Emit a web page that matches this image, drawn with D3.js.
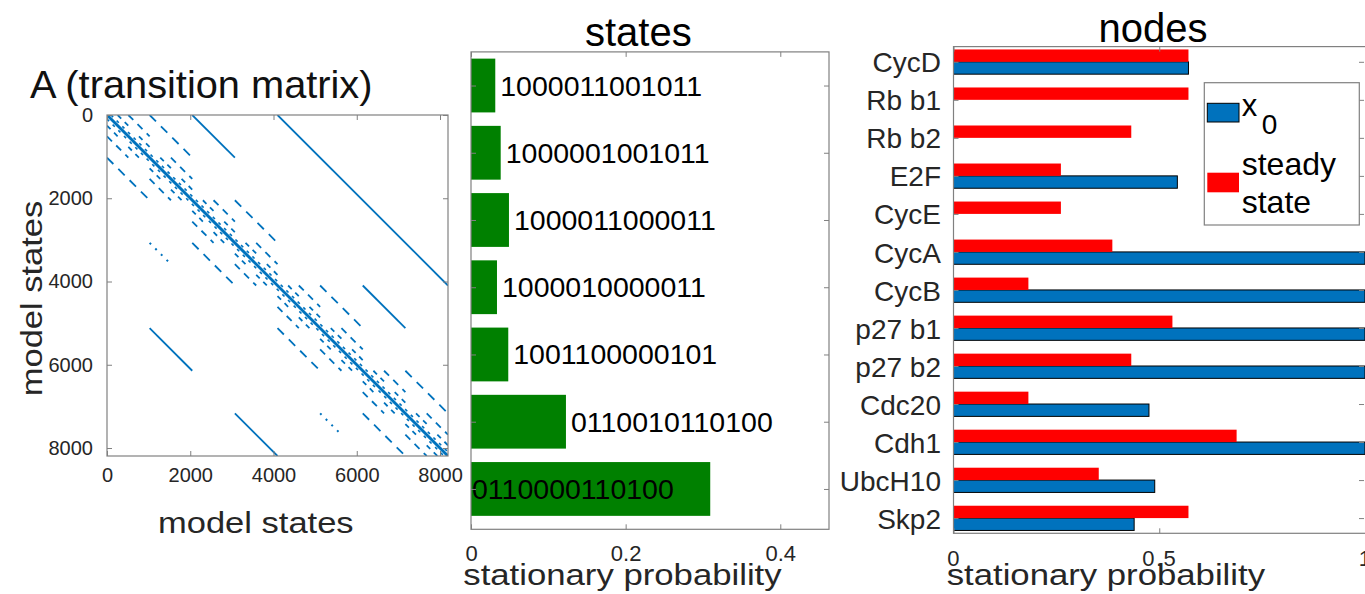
<!DOCTYPE html>
<html>
<head>
<meta charset="utf-8">
<script src="https://cdn.jsdelivr.net/npm/d3@7"></script>
<style>
  body { margin: 0; background: #fff; }
  svg { display: block; font-family: "Liberation Sans", Arial, Helvetica, sans-serif; }
</style>
</head>
<body>
<div id="chart"></div>
<script>
// ---- data ----
const matrixSize = 8192;
const matrixTicks = [0, 2000, 4000, 6000, 8000];

// sparsity pattern of the transition matrix, [col0, row0, col1, row1] in states
const diagonal = [[0, 0, 8192, 8192]];
const nearDiagonal = [[96, 0, 8192, 8096], [0, 96, 8096, 8192]];
const solidLines = [
  [4096, 0, 8192, 4096], [2048, 0, 3072, 1024], [6144, 4096, 7168, 5120],
  [1024, 5120, 2048, 6144], [3072, 7168, 4096, 8192]
];
const dottedLines = [[1024, 3072, 1536, 3584], [5120, 7168, 5632, 7680]];
const blockStarts = [0, 2048, 4096, 6144];
// dashed runs inside each 2048 block, [col0, row0, col1, row1, level]
const blockDashes = [
  [1024, 0, 2048, 1024, 1], [0, 1024, 1024, 2048, 1],
  [512, 0, 1024, 512, 2], [0, 512, 512, 1024, 2], [1536, 1024, 2048, 1536, 2], [1024, 1536, 1536, 2048, 2],
  [256, 0, 512, 256, 3], [0, 256, 256, 512, 3], [768, 512, 1024, 768, 3], [512, 768, 768, 1024, 3],
  [1280, 1024, 1536, 1280, 3], [1024, 1280, 1280, 1536, 3], [1792, 1536, 2048, 1792, 3], [1536, 1792, 1792, 2048, 3]
];

// states panel (top to bottom)
const stateLabels = ["1000011001011", "1000001001011", "1000011000011", "1000010000011",
  "1001100000101", "0110010110100", "0110000110100"];
const stateProb = [0.0314, 0.0384, 0.0491, 0.0336, 0.0482, 0.1228, 0.3094];
const stateTicks = [0, 0.2, 0.4];

// nodes panel (top to bottom)
const nodeNames = ["CycD", "Rb b1", "Rb b2", "E2F", "CycE", "CycA", "CycB",
  "p27 b1", "p27 b2", "Cdc20", "Cdh1", "UbcH10", "Skp2"];
const nodeX0 = [0.571, 0, 0, 0.544, 0, 1, 1, 1, 1, 0.475, 1, 0.489, 0.439];
const nodeSteady = [0.571, 0.571, 0.432, 0.261, 0.261, 0.386, 0.182, 0.532, 0.432, 0.182, 0.688, 0.353, 0.571];
const nodeTicks = [0, 0.5, 1];

// ---- setup ----
const W = 1365, H = 594;
const AXIS = "#808080", INK = "#262626";
const BLUE = "#0072BD", RED = "#FF0000", GREEN = "#008000";

const svg = d3.select("#chart").append("svg").attr("width", W).attr("height", H);

function label(parent, x, y, str, size, opts = {}) {
  const g = parent.append("g")
    .attr("transform", `translate(${x},${y}) rotate(${opts.rotate || 0}) scale(${opts.stretch || 1},1)`);
  return g.append("text")
    .attr("text-anchor", opts.anchor || "start")
    .attr("font-size", size)
    .attr("fill", opts.fill || INK)
    .text(str);
}

function axis(parent, tx, ty, gen, size) {
  const g = parent.append("g").attr("transform", `translate(${tx},${ty})`).call(gen);
  g.attr("font-family", null).attr("font-size", size);
  g.select(".domain").remove();
  g.selectAll(".tick line").attr("stroke", AXIS);
  g.selectAll(".tick text").attr("fill", INK);
  return g;
}

function box(parent, x0, y0, x1, y1) {
  parent.append("rect").attr("x", x0).attr("y", y0)
    .attr("width", x1 - x0).attr("height", y1 - y0)
    .attr("fill", "none").attr("stroke", AXIS).attr("stroke-width", 1.2);
}

// ---- A: transition matrix ----
const mx = d3.scaleLinear().domain([0, matrixSize]).range([107, 448]);
const my = d3.scaleLinear().domain([0, matrixSize]).range([115, 456]);

svg.append("clipPath").attr("id", "mclip").append("rect")
  .attr("x", mx(0)).attr("y", my(0))
  .attr("width", mx(matrixSize) - mx(0)).attr("height", my(matrixSize) - my(0));

const spy = svg.append("g").attr("clip-path", "url(#mclip)")
  .attr("stroke", BLUE).attr("fill", "none");

function segs(data, width, dash) {
  spy.append("g").selectAll("line").data(data).join("line")
    .attr("x1", d => mx(d[0])).attr("y1", d => my(d[1]))
    .attr("x2", d => mx(d[2])).attr("y2", d => my(d[3]))
    .attr("stroke-width", width)
    .attr("stroke-dasharray", dash);
}

const dashStyle = { 1: "9,7", 2: "7,6", 3: "5,5" };
blockStarts.forEach(b => {
  [1, 2, 3].forEach(level => {
    const rows = blockDashes.filter(d => d[4] === level)
      .map(d => [d[0] + b, d[1] + b, d[2] + b, d[3] + b]);
    segs(rows, 1.8, dashStyle[level]);
  });
});
segs(nearDiagonal, 1.6, "3,5");
segs(solidLines, 1.8, null);
segs(dottedLines, 2, "2,6");
segs(diagonal, 3, null);

const intFmt = d3.format("d");
axis(svg, 0, my(matrixSize), d3.axisBottom(mx).tickValues(matrixTicks).tickSizeInner(-5).tickSizeOuter(0).tickPadding(12).tickFormat(intFmt), 20);
axis(svg, 0, my(0), d3.axisTop(mx).tickValues(matrixTicks).tickSizeInner(-5).tickSizeOuter(0).tickFormat(""), 20);
axis(svg, mx(0), 0, d3.axisLeft(my).tickValues(matrixTicks).tickSizeInner(-5).tickSizeOuter(0).tickPadding(14).tickFormat(intFmt), 20);
axis(svg, mx(matrixSize), 0, d3.axisRight(my).tickValues(matrixTicks).tickSizeInner(-5).tickSizeOuter(0).tickFormat(""), 20);
box(svg, mx(0), my(0), mx(matrixSize), my(matrixSize));

label(svg, 30, 98.3, "A (transition matrix)", 39, { fill: "#111", stretch: 1.02 });
label(svg, 255.8, 532.7, "model states", 29, { anchor: "middle", stretch: 1.19 });
label(svg, 42, 298.5, "model states", 29, { anchor: "middle", stretch: 1.19, rotate: -90 });

// ---- states ----
const sx = d3.scaleLinear().domain([0, 0.463]).range([471, 829]);
const sy = d3.scaleLinear().domain([0.4, 7.5]).range([529.3, 51.9]);
const sPos = i => stateLabels.length - i;

svg.append("g").selectAll("rect").data(stateProb).join("rect")
  .attr("x", sx(0))
  .attr("y", (d, i) => sy(sPos(i) + 0.4))
  .attr("width", d => sx(d) - sx(0))
  .attr("height", (d, i) => sy(sPos(i) - 0.4) - sy(sPos(i) + 0.4))
  .attr("fill", GREEN);

svg.append("g").selectAll("text").data(stateLabels).join("text")
  .attr("x", (d, i) => stateProb[i] > 0.2 ? sx(0) + 1 : sx(stateProb[i]) + 5)
  .attr("y", (d, i) => sy(sPos(i)) + 10)
  .attr("font-size", 28.5).attr("fill", "#000")
  .text(d => d);

const sCats = stateLabels.map((d, i) => sPos(i));
axis(svg, 0, sy(0.4), d3.axisBottom(sx).tickValues(stateTicks).tickSizeInner(-5).tickSizeOuter(0).tickPadding(16.5).tickFormat(d3.format("")), 22);
axis(svg, 0, sy(7.5), d3.axisTop(sx).tickValues(stateTicks).tickSizeInner(-5).tickSizeOuter(0).tickFormat(""), 22);
axis(svg, sx(0), 0, d3.axisLeft(sy).tickValues(sCats).tickSizeInner(-5).tickSizeOuter(0).tickFormat(""), 22);
axis(svg, sx(0.463), 0, d3.axisRight(sy).tickValues(sCats).tickSizeInner(-5).tickSizeOuter(0).tickFormat(""), 22);
box(svg, sx(0), sy(7.5), sx(0.463), sy(0.4));

label(svg, 638.3, 45.5, "states", 40, { anchor: "middle", fill: "#000" });
label(svg, 463.3, 585, "stationary probability", 30, { stretch: 1.157 });

// ---- nodes ----
const nx = d3.scaleLinear().domain([0, 1]).range([953.5, 1365]);
const ny = d3.scaleLinear().domain([0.6, 13.4]).range([46.6, 533.3]);
const half = 0.325;

svg.append("g").selectAll("rect").data(nodeX0.map((v, i) => [v, i]).filter(d => d[0] > 0)).join("rect")
  .attr("x", nx(0))
  .attr("y", d => ny(d[1] + 1))
  .attr("width", d => nx(d[0]) - nx(0))
  .attr("height", ny(1 + half) - ny(1))
  .attr("fill", BLUE).attr("stroke", "#000").attr("stroke-width", 1);

svg.append("g").selectAll("rect").data(nodeSteady).join("rect")
  .attr("x", nx(0))
  .attr("y", (d, i) => ny(i + 1 - half))
  .attr("width", d => nx(d) - nx(0))
  .attr("height", ny(1) - ny(1 - half))
  .attr("fill", RED);

const nCats = nodeNames.map((d, i) => i + 1);
axis(svg, 0, ny(13.4), d3.axisBottom(nx).tickValues(nodeTicks).tickSizeInner(-5).tickSizeOuter(0).tickPadding(17.4).tickFormat(d3.format("")), 22)
  .selectAll(".tick text").attr("letter-spacing", 1.5);
axis(svg, 0, ny(0.6), d3.axisTop(nx).tickValues(nodeTicks).tickSizeInner(-5).tickSizeOuter(0).tickFormat(""), 22);
const nLeft = axis(svg, nx(0), 0, d3.axisLeft(ny).tickValues(nCats).tickSizeInner(-5).tickSizeOuter(0).tickPadding(12.5).tickFormat(d => nodeNames[d - 1]), 28);
nLeft.selectAll(".tick text").attr("dy", "0.36em");
axis(svg, nx(1) - 1, 0, d3.axisRight(ny).tickValues(nCats).tickSizeInner(-5).tickSizeOuter(0).tickFormat(""), 22);
box(svg, nx(0), ny(0.6), nx(1) + 2, ny(13.4));

label(svg, 1153, 41.7, "nodes", 40, { anchor: "middle", fill: "#000" });
label(svg, 946.7, 585, "stationary probability", 30, { stretch: 1.157 });

// legend
const leg = svg.append("g");
leg.append("rect").attr("x", 1204.3).attr("y", 82.7).attr("width", 155).attr("height", 142.3)
  .attr("fill", "#fff").attr("stroke", AXIS).attr("stroke-width", 1.2);
leg.append("rect").attr("x", 1207.3).attr("y", 103.3).attr("width", 31.7).attr("height", 18.7)
  .attr("fill", BLUE).attr("stroke", "#000").attr("stroke-width", 1);
leg.append("rect").attr("x", 1207.3).attr("y", 172.7).attr("width", 31.7).attr("height", 19.6)
  .attr("fill", RED);
label(leg, 1241.7, 116, "x", 31, { fill: "#000" });
label(leg, 1261.7, 134, "0", 28, { fill: "#000" });
label(leg, 1241.7, 175, "steady", 32, { fill: "#000" });
label(leg, 1241.7, 212.7, "state", 32, { fill: "#000" });
</script>
</body>
</html>
